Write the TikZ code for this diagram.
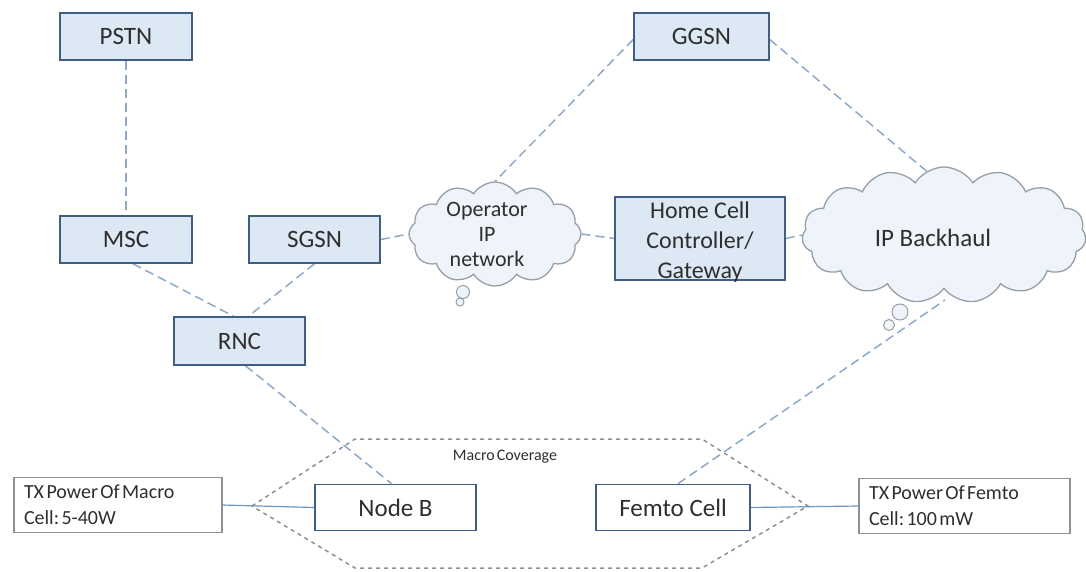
\documentclass[tikz,border=0pt]{standalone}
\usepackage{fontspec}
\setmainfont{Carlito}
\newfontfamily\notefont[WordSpace=0.55]{Carlito}
\newcommand{\tightsp}{\spaceskip=0.12em\xspaceskip=0.12em\relax}
\usetikzlibrary{shapes.symbols,backgrounds,calc}
\definecolor{boxfill}{HTML}{DCE8F4}
\definecolor{boxline}{HTML}{3F5E82}
\definecolor{linkc}{HTML}{8EA8C8}
\definecolor{covc}{HTML}{8C9096}
\definecolor{txtc}{HTML}{2E2E2E}
\definecolor{cloudfill}{HTML}{EEF4FA}
\definecolor{cloudline}{HTML}{969EA8}
\definecolor{radioc}{HTML}{6F93C2}
\definecolor{notec}{HTML}{8A9098}
\begin{document}
\begin{tikzpicture}[x=1pt,y=-1pt,
  netbox/.style={draw=boxline, line width=1.6pt, fill=boxfill, text=txtc,
    font=\fontsize{25}{30}\selectfont, minimum height=47pt, inner sep=0pt},
  radiobox/.style={draw=boxline, line width=1.8pt, fill=white, text=txtc,
    font=\fontsize{25}{30}\selectfont, minimum height=46pt, inner sep=0pt},
  notebox/.style={draw=notec, line width=1.2pt, fill=white, text=txtc,
    font=\notefont\fontsize{20}{26}\selectfont, align=left, minimum height=55pt,
    inner xsep=10pt, inner ysep=0pt},
  netcloud/.style={cloud, cloud puffs=12, cloud puff arc=115, draw=cloudline,
    fill=cloudfill, line width=1.3pt, inner sep=0pt},
  bubble/.style={draw=cloudline, fill=cloudfill, line width=1pt},
  cloudtext/.style={text=txtc, align=center},
  link/.style={draw=linkc, line width=1.5pt, dash pattern=on 9pt off 5pt},
  radiolink/.style={draw=radioc, line width=1.2pt},
  coverage/.style={draw=covc, line width=1.5pt, dash pattern=on 4pt off 4pt},
]
\path[use as bounding box] (0,0) rectangle (1086,571);

% core network elements
\node[netbox, minimum width=132pt] (pstn) at (126,36.5) {PSTN};
\node[netbox, minimum width=135pt] (ggsn) at (701.5,36.5) {GGSN};
\node[netbox, minimum width=132pt] (msc)  at (126,239.5) {MSC};
\node[netbox, minimum width=131pt] (sgsn) at (314.5,239.5) {SGSN};
\node[netbox, minimum width=131pt, minimum height=48pt] (rnc) at (239.5,341) {RNC};
\node[netbox, minimum width=170pt, minimum height=83pt] (hcc) at (700,238.5) {};
\node[cloudtext, font=\fontsize{24}{30}\selectfont] (hcctext) at (700,242)
  {Home Cell\\Controller/\\Gateway};

% IP clouds with their thought-bubble tails
\node[netcloud, minimum width=172pt, minimum height=104pt] (opnet) at (495,234) {};
\node[cloudtext, font=\fontsize{22}{25}\selectfont] (optext) at (487,234)
  {Operator\\IP\\network};
\draw[bubble] (463,292) circle (6.5pt);
\draw[bubble] (460,302) circle (4pt);

\node[netcloud, cloud puffs=15, minimum width=284pt, minimum height=136pt] (ipb) at (944,235) {};
\node[cloudtext, font=\fontsize{25}{30}\selectfont] (ipbtext) at (933,238) {IP Backhaul};
\draw[bubble] (900,312) circle (8pt);
\draw[bubble] (889,325) circle (5.5pt);

% radio access
\node[radiobox, minimum width=161pt] (nodeb) at (395.5,507.5) {Node B};
\node[radiobox, minimum width=154pt] (femto) at (673,507.5) {Femto Cell};
\node[notebox, text width=188pt] (txmacro) at (118,505)
  {\tightsp TX Power Of Macro\\\tightsp Cell: 5-40W};
\node[notebox, text width=191pt] (txfemto) at (964.5,506)
  {\tightsp TX Power Of Femto\\\tightsp Cell: 100 mW};

% macro coverage area
\draw[coverage] (252,506) -- (355,439) -- (702,439) -- (808,506) -- (702,568) -- (355,568) -- cycle;
\node[text=txtc, font=\notefont\fontsize{16}{18}\selectfont] (cov) at (505,457) {Macro Coverage};

% connections
\begin{scope}[on background layer]
\coordinate (ipbtop) at (943,185);
\coordinate (ipbbottom) at (945,300);
\draw[link] (pstn.south) -- (msc.north);
\draw[link] ($(msc.south)+(7,0)$) -- ($(rnc.north)+(-6,0)$);
\draw[link] (sgsn.south) -- ($(rnc.north)+(9,0)$);
\draw[link] ($(rnc.south)+(6,0)$) -- ($(nodeb.north)+(-4,0)$);
\draw[link] (sgsn.east) -- (opnet.west);
\draw[link] (opnet.east) -- (hcc.west);
\draw[link] (hcc.east) -- (ipb.west);
\draw[link] ($(ggsn.west)+(0,3)$) -- (opnet.north);
\draw[link] ($(ggsn.east)+(0,3)$) -- (ipbtop);
\draw[link] ($(femto.north)+(5,0)$) -- (ipbbottom);
\end{scope}
\draw[radiolink] (txmacro.east) -- (nodeb.west);
\draw[radiolink] (femto.east) -- (txfemto.west);
\end{tikzpicture}
\end{document}
